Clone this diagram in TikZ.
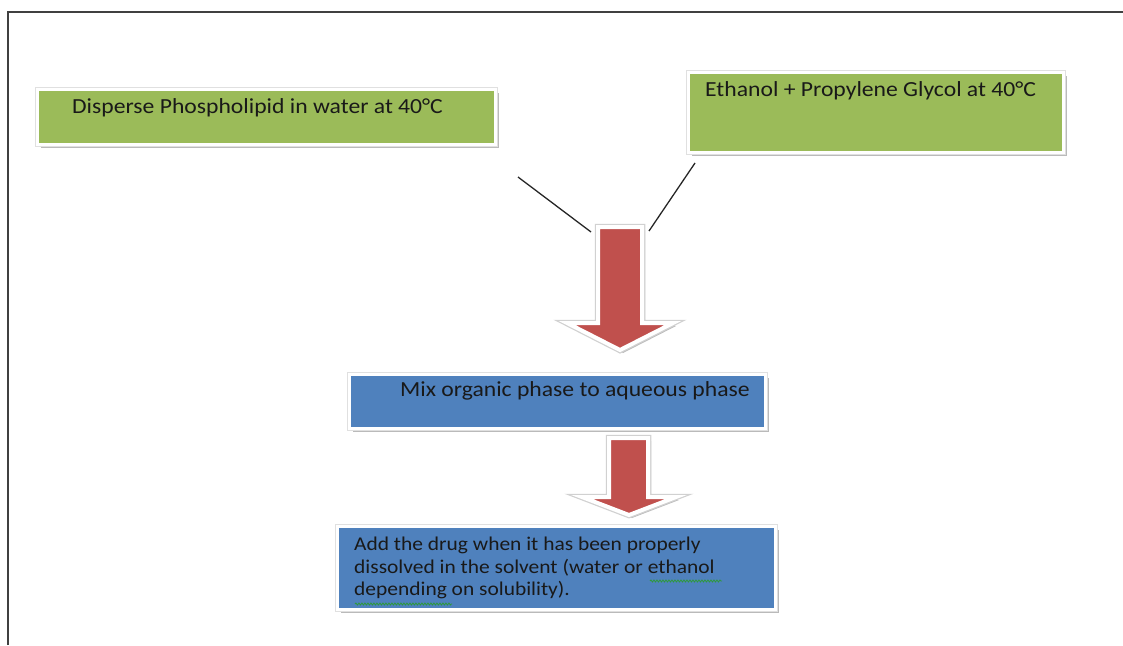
\documentclass[tikz,border=0pt]{standalone}
\usepackage{fontspec}
\setmainfont{Carlito}[FakeStretch=1.1]
\usetikzlibrary{shadows,decorations.pathmorphing}
\definecolor{boxgreen}{HTML}{9BBB59}
\definecolor{boxblue}{HTML}{4F81BD}
\definecolor{arrred}{HTML}{C0504D}
\definecolor{spellgreen}{HTML}{2E9A3A}
\begin{document}
\begin{tikzpicture}[x=1pt,y=-1pt,
  boxshadow/.style={drop shadow={shadow xshift=3pt,shadow yshift=-3pt,fill=black!45,opacity=0.6}},
  stepbox/.style={draw=white,line width=3pt,boxshadow,anchor=north west,inner sep=0pt,
    preaction={draw=black!12,line width=5pt}},
  greenbox/.style={stepbox,fill=boxgreen},
  bluebox/.style={stepbox,fill=boxblue},
  blockarrow/.style={fill=arrred,draw=white,line width=4pt,line join=miter,boxshadow,
    preaction={draw=black!18,line width=6.5pt,line join=miter}},
  lbl/.style={anchor=west,inner sep=0pt,font=\fontsize{21.5}{24}\selectfont,text=black!90},
  smalllbl/.style={inner sep=0pt,font=\fontsize{19.5}{22.5}\selectfont,text=black!90,align=left,anchor=north west},
  spell/.style={draw=spellgreen,line width=0.8pt,decorate,decoration={snake,segment length=3pt,amplitude=1pt}},
  conn/.style={draw=black!85,line width=1.3pt}]
\useasboundingbox (0,0) rectangle (1123,645);
% frame
\draw[line width=1.8pt,black!75] (8,645) -- (8,12) -- (1123,12);
% green boxes
\node[greenbox,minimum width=458pt,minimum height=55pt] (g1) at (36,88) {};
\node[lbl] (t1) at (72,108) {Disperse Phospholipid in water at 40°C};
\node[greenbox,minimum width=375pt,minimum height=80pt] (g2) at (687,71) {};
\node[lbl] (t2) at (705,91) {Ethanol + Propylene Glycol at 40°C};
% connectors
\coordinate (c1a) at (518,177);
\coordinate (c1b) at (591,232);
\coordinate (c2a) at (695,163);
\coordinate (c2b) at (649,231);
\draw[conn] (c1a) -- (c1b);
\draw[conn] (c2a) -- (c2b);
% arrow 1
\path[blockarrow] (598,227) -- (642,227) -- (642,323) -- (673,323) -- (620,350) -- (567,323) -- (598,323) -- cycle;
% blue box 1
\node[bluebox,minimum width=416pt,minimum height=54pt] (b1) at (348,373) {};
\node[lbl] (t3) at (400,391) {Mix organic phase to aqueous phase};
% arrow 2
\path[blockarrow] (609,438) -- (648,438) -- (648,497) -- (676,497) -- (629,515) -- (582,497) -- (609,497) -- cycle;
% blue box 2
\node[bluebox,minimum width=438pt,minimum height=83pt] (b2) at (336,525) {};
\node[smalllbl] (t4) at (354,537) {Add the drug when it has been properly\\dissolved in the solvent (water or ethanol\\depending on solubility).};
\coordinate (s1a) at (650,581);
\coordinate (s1b) at (722,581);
\coordinate (s2a) at (355,604);
\coordinate (s2b) at (452,604);
\draw[spell] (s1a) -- (s1b);
\draw[spell] (s2a) -- (s2b);
\end{tikzpicture}
\end{document}
